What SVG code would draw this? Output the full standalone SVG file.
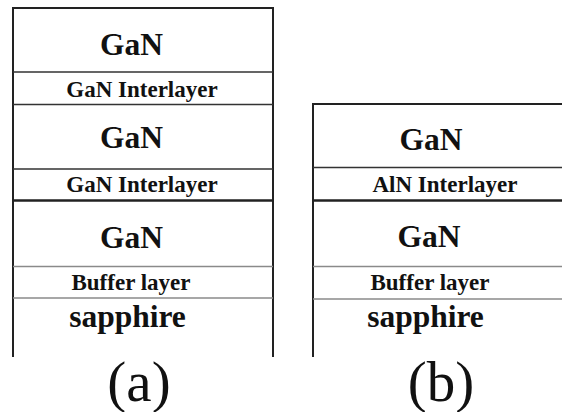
<svg xmlns="http://www.w3.org/2000/svg" width="562" height="412" viewBox="0 0 562 412">
<style>
text{font-family:'Liberation Serif','Times New Roman','DejaVu Serif',serif;fill:#111;text-anchor:middle}
.big{font-weight:bold;font-size:31.5px}
.small{font-weight:bold;font-size:23px}
.cap{font-weight:normal;font-size:57px}
.edge{stroke:#222;stroke-width:2;fill:none}
.inter{stroke:#333;stroke-width:1.6;fill:none}
.thick{stroke:#222;stroke-width:2.4;fill:none}
.buf{stroke:#8a8a8a;stroke-width:1.6;fill:none}
</style>
<rect width="562" height="412" fill="#fff"/>
<g id="connectors">
  <path class="edge" d="M13,357 V8 H273 V357"/>
  <path class="inter" d="M13,72 H273 M13,104.5 H273 M13,169 H273"/>
  <path class="thick" d="M13,200.5 H273"/>
  <path class="buf" d="M13,266.5 H273 M13,298 H273"/>
  <path class="edge" d="M313,357 V104 H562"/>
  <path class="inter" d="M313,167.5 H562"/>
  <path class="thick" d="M313,200.5 H562"/>
  <path class="buf" d="M313,266.5 H562 M313,299 H562"/>
</g>
<g font-family="Liberation Serif, Times New Roman, serif">
<g id="a-gan-top"><text class="big" x="131.5" y="55">GaN</text></g>
<g id="a-interlayer-1"><text class="small" x="142" y="96.5">GaN Interlayer</text></g>
<g id="a-gan-mid"><text class="big" x="131.5" y="148">GaN</text></g>
<g id="a-interlayer-2"><text class="small" x="142" y="192">GaN Interlayer</text></g>
<g id="a-gan-bottom"><text class="big" x="131.5" y="248">GaN</text></g>
<g id="a-buffer"><text class="small" x="131" y="290">Buffer layer</text></g>
<g id="a-sapphire"><text class="big" x="127.5" y="326.5">sapphire</text></g>
<g id="label-a"><text class="cap" x="139" y="401">(a)</text></g>
<g id="b-gan-top"><text class="big" x="431" y="150">GaN</text></g>
<g id="b-interlayer"><text class="small" x="445" y="191.5">AlN Interlayer</text></g>
<g id="b-gan-bottom"><text class="big" x="429" y="246.5">GaN</text></g>
<g id="b-buffer"><text class="small" x="430" y="290">Buffer layer</text></g>
<g id="b-sapphire"><text class="big" x="425.5" y="326.5">sapphire</text></g>
<g id="label-b"><text class="cap" x="441" y="401">(b)</text></g>
</g>
</svg>
